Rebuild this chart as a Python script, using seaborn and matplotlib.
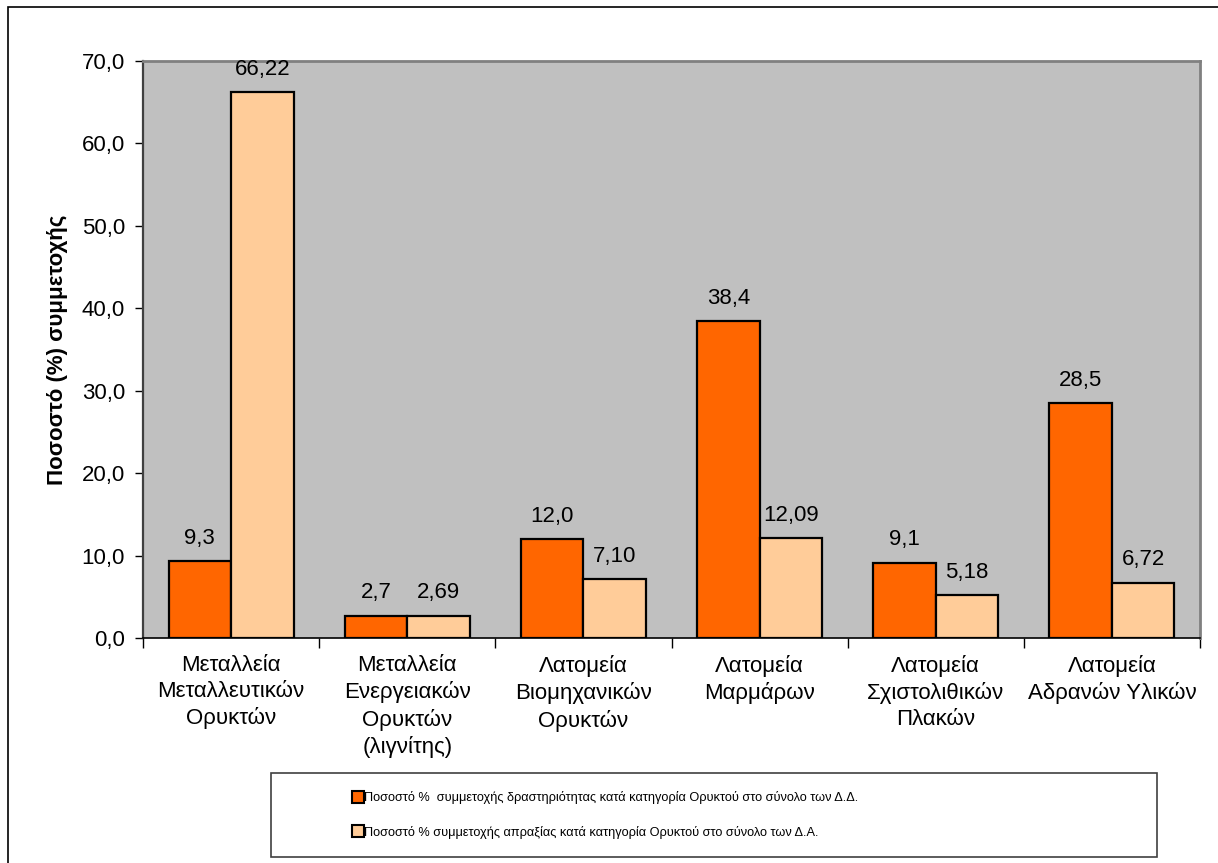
import matplotlib
matplotlib.use("Agg")
import matplotlib.pyplot as plt
from matplotlib.patches import Rectangle
from matplotlib.lines import Line2D
import seaborn as sns
import pandas as pd

# Categories of mineral extraction activity
categories = [
    "Μεταλλεία\nΜεταλλευτικών\nΟρυκτών",
    "Μεταλλεία\nΕνεργειακών\nΟρυκτών\n(λιγνίτης)",
    "Λατομεία\nΒιομηχανικών\nΟρυκτών",
    "Λατομεία\nΜαρμάρων",
    "Λατομεία\nΣχιστολιθικών\nΠλακών",
    "Λατομεία\nΑδρανών Υλικών",
]

series_names = [
    "Ποσοστό %  συμμετοχής δραστηριότητας κατά κατηγορία Ορυκτού στο σύνολο των Δ.Δ.",
    "Ποσοστό % συμμετοχής απραξίας κατά κατηγορία Ορυκτού στο σύνολο των Δ.Α.",
]

activity_share = [9.3, 2.7, 12.0, 38.4, 9.1, 28.5]
inactivity_share = [66.22, 2.69, 7.10, 12.09, 5.18, 6.72]

y_ticks = [0, 10, 20, 30, 40, 50, 60, 70]
y_label = "Ποσοστό (%) συμμετοχής"

colors = ["#FF6600", "#FFCC99"]

sns.set_style("white")
plt.rcParams["font.family"] = ["Liberation Sans", "DejaVu Sans"]
plt.rcParams.update({
    "text.color": "black",
    "axes.labelcolor": "black",
    "xtick.color": "black",
    "ytick.color": "black",
})

df = pd.DataFrame({
    "category": categories * 2,
    "value": activity_share + inactivity_share,
    "series": [series_names[0]] * len(categories) + [series_names[1]] * len(categories),
})

W, H = 1218, 863
fig = plt.figure(figsize=(W / 100, H / 100), dpi=100)
ax = fig.add_axes([143 / W, 1 - 638 / H, (1200 - 143) / W, (638 - 61) / H])
ax.set_facecolor("#C0C0C0")

sns.barplot(
    data=df, x="category", y="value", hue="series",
    order=categories, hue_order=series_names,
    palette=colors, width=0.71, gap=0, saturation=1,
    edgecolor="black", linewidth=1.6, errorbar=None, legend=False, ax=ax,
)

# Value labels with comma decimal separator
fmts = ["{:.1f}", "{:.2f}"]
for container, fmt in zip(ax.containers, fmts):
    labels = [fmt.format(b.get_height()).replace(".", ",") for b in container]
    ax.bar_label(container, labels=labels, padding=9, fontsize=16, color="black")

ax.set_ylim(0, 70)
ax.set_xlim(-0.5, len(categories) - 0.5)
ax.set_yticks(y_ticks)
ax.set_yticklabels([f"{t:.1f}".replace(".", ",") for t in y_ticks], fontsize=16)
ax.tick_params(axis="y", direction="out", length=6, width=1, color="black", left=True, pad=7)

ax.set_xticks(range(len(categories)))
ax.set_xticklabels(categories, fontsize=16, linespacing=1.32)
ax.tick_params(axis="x", which="major", length=0, pad=12)
ax.set_xticks([i - 0.5 for i in range(len(categories) + 1)], minor=True)
ax.tick_params(axis="x", which="minor", direction="out", length=7, width=1, color="black", bottom=True)

ax.set_xlabel("")
ax.set_ylabel(y_label, fontsize=16, fontweight="bold", labelpad=10, color="black")

for side in ["top", "right"]:
    ax.spines[side].set_visible(True)
    ax.spines[side].set_color("#808080")
    ax.spines[side].set_linewidth(2)
ax.spines["left"].set_color("#404040")
ax.spines["left"].set_linewidth(1.6)
ax.spines["bottom"].set_color("black")
ax.spines["bottom"].set_linewidth(1.2)

# Outer chart border
fig.patches.append(Rectangle((7.5 / W, -0.05), 1.1, 1 - 7.5 / H + 0.05,
                             transform=fig.transFigure, fill=False,
                             edgecolor="black", linewidth=1.2))

# Legend box
fig.patches.append(Rectangle((271 / W, 1 - 857 / H), (1157 - 271) / W, (857 - 773) / H,
                             transform=fig.transFigure, fill=False,
                             edgecolor="#404040", linewidth=1.2))

handles = [Line2D([], [], linestyle="none", marker="s", markersize=8,
                  markerfacecolor=c, markeredgecolor="black", markeredgewidth=1.5)
           for c in colors]
fig.legend(handles, series_names, loc="center left",
           bbox_to_anchor=(346 / W, 1 - 815 / H), frameon=False,
           fontsize=9.2, handlelength=0.8, handletextpad=0.1,
           labelspacing=1.65, borderpad=0, labelcolor="black")

fig.savefig("out.png", dpi=100)
